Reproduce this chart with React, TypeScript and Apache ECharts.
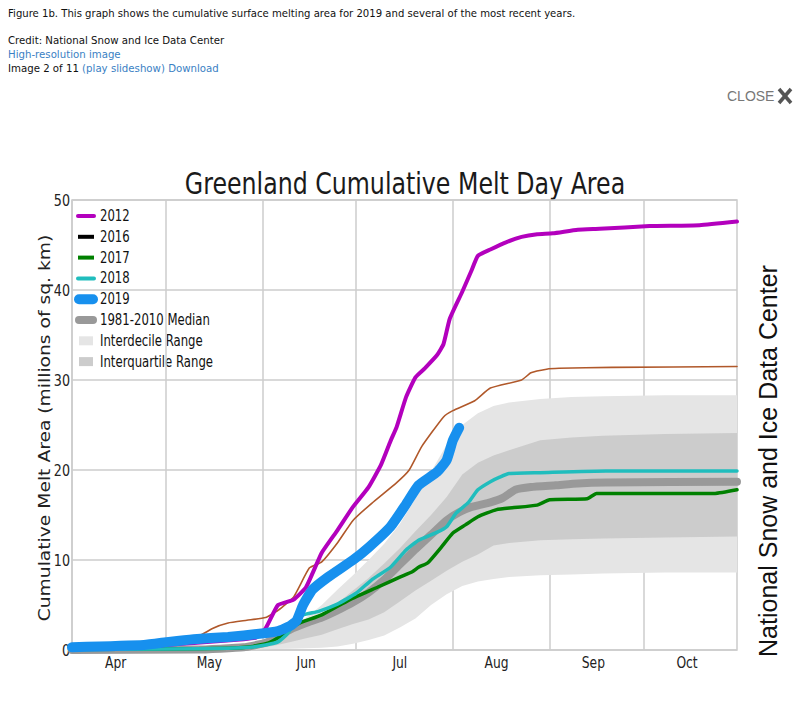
import React, { useEffect, useRef } from "react";
import * as echarts from "echarts";

// ---- Data (x = days since April 1, y = millions of sq. km) ----
const monthNames = ["Apr", "May", "Jun", "Jul", "Aug", "Sep", "Oct"];
const monthStarts = [0, 30, 61, 91, 122, 153, 183];
const monthLabelDays = [14, 44, 75, 105, 136, 167, 197];
const yTicks = [0, 10, 20, 30, 40, 50];

const days2012 = [0, 20, 40, 55, 59, 62, 66, 71, 75, 80, 85, 90, 95, 99, 102, 104, 107, 110, 113, 117, 119, 121, 125, 128, 130, 134, 139, 144, 149, 154, 162, 169, 185, 201, 213];
const vals2012 = [0.1, 0.3, 0.8, 1.2, 1.4, 2.4, 5.0, 5.6, 7.0, 10.8, 13.3, 15.9, 18.1, 20.6, 23.2, 24.8, 28.1, 30.3, 31.3, 32.8, 34.0, 36.8, 39.8, 42.2, 43.8, 44.5, 45.3, 45.9, 46.2, 46.3, 46.7, 46.8, 47.1, 47.2, 47.6];

const days2016 = [0, 20, 35, 40, 45, 50, 56, 62, 66, 71, 76, 80, 85, 90, 96, 104, 108, 112, 119, 122, 129, 134, 144, 147, 152, 156, 173, 213];
const vals2016 = [0.15, 0.3, 0.7, 1.4, 2.4, 3.0, 3.3, 3.6, 4.4, 5.9, 9.1, 9.8, 11.9, 14.4, 16.3, 18.6, 20.0, 22.6, 25.9, 26.6, 27.7, 29.1, 30.0, 30.8, 31.2, 31.3, 31.4, 31.5];

const days2017 = [0, 30, 50, 58, 63, 67, 70, 73, 80, 89, 98, 105, 109, 111, 114, 118, 122, 126, 130, 136, 141, 149, 153, 165, 168, 206, 213];
const vals2017 = [0.05, 0.1, 0.2, 0.4, 0.8, 1.6, 2.4, 3.0, 3.9, 5.6, 7.0, 8.1, 8.7, 9.2, 9.7, 11.3, 13.0, 13.9, 14.8, 15.6, 15.8, 16.1, 16.7, 16.8, 17.4, 17.4, 17.8];

const days2018 = [0, 30, 50, 57, 62, 66, 69, 72, 74, 79, 85, 91, 96, 102, 107, 111, 117, 120, 123, 127, 130, 134, 137, 140, 150, 171, 213];
const vals2018 = [0.05, 0.1, 0.2, 0.3, 0.55, 0.9, 1.8, 3.3, 3.9, 4.3, 5.1, 6.3, 7.8, 9.2, 11.1, 12.2, 13.1, 13.7, 15.2, 16.4, 17.8, 18.7, 19.2, 19.6, 19.7, 19.9, 19.9];

const days2019 = [0, 23, 31, 39, 50, 60, 66, 70, 72, 74, 77, 82, 90, 95, 102, 107, 111, 117, 120, 122, 124];
const vals2019 = [0.3, 0.55, 0.9, 1.2, 1.45, 1.8, 2.1, 2.7, 3.3, 5.0, 6.7, 8.1, 10.0, 11.4, 13.7, 16.2, 18.3, 19.8, 21.1, 23.3, 24.7];

const daysMedian = [0, 40, 55, 62, 66, 70, 75, 80, 85, 90, 95, 100, 105, 110, 115, 120, 124, 128, 134, 138, 142, 147, 155, 162, 171, 213];
const valsMedian = [0.0, 0.05, 0.3, 0.8, 1.5, 2.3, 3.0, 3.6, 4.4, 5.3, 6.4, 7.8, 9.5, 11.2, 12.8, 14.4, 15.3, 15.9, 16.4, 16.9, 17.8, 18.1, 18.3, 18.5, 18.6, 18.7];

const bandDays = [0, 30, 50, 60, 65, 70, 75, 80, 85, 90, 95, 100, 105, 110, 115, 120, 125, 130, 135, 140, 150, 160, 170, 190, 213];
const p10 = [0, 0, 0, 0.05, 0.1, 0.15, 0.2, 0.25, 0.4, 0.7, 1.1, 1.6, 2.5, 3.5, 5.0, 6.2, 7.1, 7.6, 7.9, 8.1, 8.3, 8.4, 8.5, 8.6, 8.6];
const p25 = [0, 0, 0.05, 0.2, 0.5, 0.9, 1.3, 1.7, 2.3, 2.9, 3.4, 4.2, 5.4, 6.6, 7.7, 8.8, 9.8, 10.6, 11.6, 11.9, 12.2, 12.3, 12.4, 12.5, 12.6];
const p75 = [0.05, 0.1, 0.3, 0.7, 1.3, 2.1, 3.0, 4.0, 5.2, 6.6, 8.0, 9.6, 11.3, 13.2, 15.0, 17.0, 19.5, 20.8, 21.6, 22.2, 23.3, 23.6, 23.8, 24.0, 24.1];
const p90 = [0.1, 0.2, 0.6, 0.8, 1.4, 2.4, 3.6, 5.0, 6.7, 8.3, 10.0, 11.8, 14.0, 16.8, 19.8, 22.8, 25.0, 26.3, 27.1, 27.5, 27.9, 28.1, 28.2, 28.3, 28.3];

const pairs = (d: number[], v: number[]) => d.map((x, i) => [x, v[i]]);

const SANS = "'DejaVu Sans', sans-serif";
const ARIAL = "'Liberation Sans', Arial, sans-serif";
const LINK = "#3a7fc4";
const SQUISH = 0.77;

function bandSeries(lo: number[], hi: number[], color: string, name: string) {
  return {
    type: "custom",
    name,
    silent: true,
    data: bandDays.map((d, i) => [d, lo[i], hi[i]]),
    encode: { x: 0, y: [1, 2] },
    renderItem: (params: any, api: any) => {
      if (params.dataIndex !== 0) return null;
      const top = bandDays.map((d, i) => api.coord([d, hi[i]]));
      const bot = bandDays.map((d, i) => api.coord([d, lo[i]])).reverse();
      return {
        type: "polygon",
        shape: { points: top.concat(bot) },
        style: { fill: color },
      };
    },
  };
}

function lineSeries(name: string, d: number[], v: number[], color: string, width: number) {
  return {
    type: "line",
    name,
    data: pairs(d, v),
    showSymbol: false,
    smooth: 0.15,
    lineStyle: { color, width, cap: "round", join: "round" },
    itemStyle: { color },
    silent: true,
  };
}

const legendItems = [
  { label: "2012", kind: "line", color: "#b300bd", w: 4 },
  { label: "2016", kind: "line", color: "#000000", w: 4 },
  { label: "2017", kind: "line", color: "#008000", w: 4 },
  { label: "2018", kind: "line", color: "#20bdbd", w: 4 },
  { label: "2019", kind: "fat", color: "#1790ee", w: 10 },
  { label: "1981-2010 Median", kind: "fat", color: "#999999", w: 8 },
  { label: "Interdecile Range", kind: "box", color: "#e5e5e5", w: 0 },
  { label: "Interquartile Range", kind: "box", color: "#cccccc", w: 0 },
];

function txt(x: number, y: number, text: string, size: number, family: string, fill: string, extra: any = {}) {
  const { align, ...rest } = extra;
  return {
    type: "text",
    x,
    y,
    silent: true,
    ...rest,
    style: {
      text,
      fontSize: size,
      fontFamily: family,
      fill,
      textAlign: align || "left",
      textVerticalAlign: "middle",
    },
  };
}

export default function App() {
  const ref = useRef<HTMLDivElement>(null);
  useEffect(() => {
    if (!ref.current) return;
    const chart = echarts.init(ref.current, undefined, { renderer: "svg" });

    const graphics: any[] = [];
    // page texts
    graphics.push(txt(8, 13, "Figure 1b. This graph shows the cumulative surface melting area for 2019 and several of the most recent years.", 10.1, SANS, "#111"));
    graphics.push(txt(8, 40, "Credit: National Snow and Ice Data Center", 10.2, SANS, "#111"));
    graphics.push(txt(8, 54, "High-resolution image", 10.2, SANS, LINK));
    graphics.push({
      type: "text",
      x: 8,
      y: 68,
      silent: true,
      style: {
        text: "{a|Image 2 of 11 }{b|(play slideshow) Download}",
        textVerticalAlign: "middle",
        rich: {
          a: { fontSize: 10.2, fontFamily: SANS, fill: "#111", color: "#111" },
          b: { fontSize: 10.2, fontFamily: SANS, fill: LINK, color: LINK },
        },
      },
    });
    graphics.push(txt(727, 96, "CLOSE", 14, ARIAL, "#777"));
    graphics.push({ type: "line", silent: true, shape: { x1: 779, y1: 89, x2: 791, y2: 103 }, style: { stroke: "#555", lineWidth: 3.5 } });
    graphics.push({ type: "line", silent: true, shape: { x1: 791, y1: 89, x2: 779, y2: 103 }, style: { stroke: "#555", lineWidth: 3.5 } });

    // chart title
    graphics.push(txt(405, 183, "Greenland Cumulative Melt Day Area", 30, SANS, "#1a1a1a", { align: "center", scaleX: 0.79 }));
    // y-axis name
    graphics.push(txt(45, 428, "Cumulative Melt Area (millions of sq. km)", 18.7, SANS, "#222", { align: "center", rotation: Math.PI / 2, scaleY: 0.8 }));
    // right credit
    graphics.push(txt(768, 461, "National Snow and Ice Data Center", 25, ARIAL, "#111", { align: "center", rotation: Math.PI / 2 }));

    // legend
    const rowY0 = 216;
    const rowGap = 20.8;
    legendItems.forEach((it, i) => {
      const y = rowY0 + i * rowGap;
      if (it.kind === "line") {
        graphics.push({ type: "line", silent: true, shape: { x1: 78, y1: y, x2: 94, y2: y }, style: { stroke: it.color, lineWidth: it.w, lineCap: i === 0 || i === 3 ? "round" : "butt" } });
      } else if (it.kind === "fat") {
        graphics.push({ type: "line", silent: true, shape: { x1: 79, y1: y, x2: 93, y2: y }, style: { stroke: it.color, lineWidth: it.w, lineCap: "round" } });
      } else {
        graphics.push({ type: "rect", silent: true, shape: { x: 79, y: y - 4.5, width: 14, height: 9 }, style: { fill: it.color } });
      }
      graphics.push(txt(100, y, it.label, 15, SANS, "#111", { scaleX: 0.78 }));
    });

    const option: any = {
      animation: false,
      backgroundColor: "#ffffff",
      grid: { left: 72, right: 67, top: 200, bottom: 52, show: true, borderColor: "#cccccc", borderWidth: 1.5 },
      xAxis: {
        type: "value",
        min: 0,
        max: 213,
        axisLine: { show: false },
        axisTick: { show: false, customValues: monthStarts },
        splitLine: { show: true, lineStyle: { color: "#cccccc", width: 1.5 } },
        axisLabel: { show: false },
      },
      yAxis: {
        type: "value",
        min: yTicks[0],
        max: yTicks[yTicks.length - 1],
        interval: 10,
        axisLine: { show: false },
        axisTick: { show: false },
        splitLine: { show: true, lineStyle: { color: "#cccccc", width: 1.5 } },
        axisLabel: { show: false },
      },
      series: [
        bandSeries(p10, p90, "#e5e5e5", "Interdecile Range"),
        bandSeries(p25, p75, "#cccccc", "Interquartile Range"),
        lineSeries("1981-2010 Median", daysMedian, valsMedian, "#999999", 8),
        lineSeries("2016", days2016, vals2016, "#b0582a", 1.6),
        lineSeries("2017", days2017, vals2017, "#008000", 3.5),
        lineSeries("2018", days2018, vals2018, "#20bdbd", 3.5),
        lineSeries("2012", days2012, vals2012, "#b300bd", 4),
        lineSeries("2019", days2019, vals2019, "#1790ee", 10),
      ],
      graphic: graphics,
    };
    chart.setOption(option);

    // Tick labels placed through the axes' own scales, drawn horizontally condensed
    const tickGraphics: any[] = [];
    yTicks.forEach((v) => {
      const p = chart.convertToPixel({ xAxisIndex: 0, yAxisIndex: 0 }, [0, v]) as number[];
      tickGraphics.push(txt(p[0] - 2, p[1], String(v), 16.5, SANS, "#222", { align: "right", scaleX: SQUISH }));
    });
    monthLabelDays.forEach((d, i) => {
      const p = chart.convertToPixel({ xAxisIndex: 0, yAxisIndex: 0 }, [d, 0]) as number[];
      tickGraphics.push(txt(p[0], p[1] + 12, monthNames[i], 16, SANS, "#222", { align: "center", scaleX: SQUISH }));
    });
    chart.setOption({ graphic: graphics.concat(tickGraphics) });

    return () => chart.dispose();
  }, []);
  return <div ref={ref} style={{ position: "absolute", left: 0, top: 0, width: 804, height: 702 }} />;
}
